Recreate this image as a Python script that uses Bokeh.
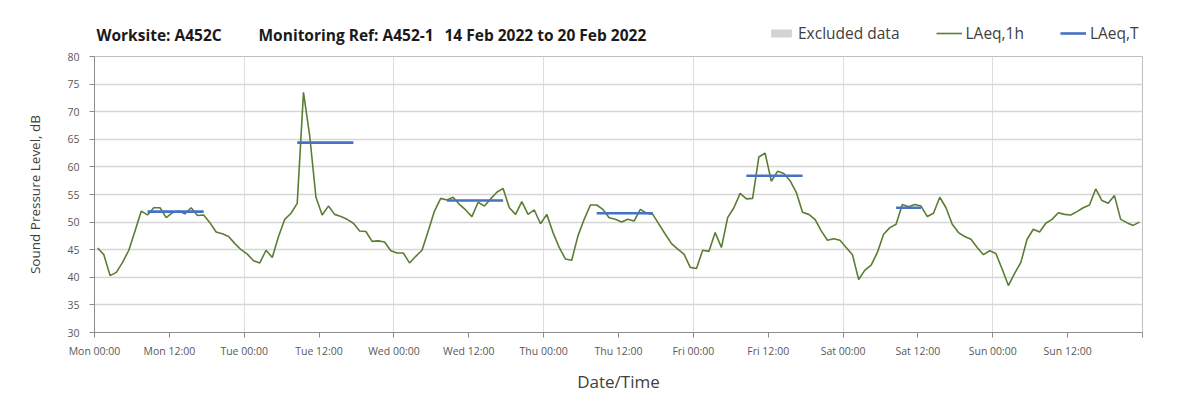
from bokeh.plotting import figure
from bokeh.layouts import column
from bokeh.models import FixedTicker, Legend, LegendItem, Label
from bokeh.embed import file_html
from bokeh.resources import INLINE

# ---------------- data ----------------
laeq_1h = [
    45.3, 44.1, 40.3, 40.9, 42.7, 44.9, 48.4, 52.0, 51.3, 52.6, 52.6, 50.8,
    51.7, 52.0, 51.5, 52.6, 51.2, 51.3, 49.9, 48.2, 47.9, 47.4, 46.1, 45.0,
    44.2, 43.0, 42.6, 44.9, 43.6, 47.4, 50.5, 51.6, 53.4, 73.5, 65.6, 54.5,
    51.3, 52.9, 51.4, 51.0, 50.5, 49.8, 48.4, 48.3, 46.5, 46.6, 46.4, 44.8,
    44.4, 44.4, 42.6, 43.8, 44.9, 48.4, 52.0, 54.3, 54.0, 54.5, 53.2, 52.2,
    51.0, 53.6, 52.9, 54.2, 55.4, 56.1, 52.6, 51.4, 53.7, 51.4, 52.2, 49.7,
    51.4, 48.1, 45.4, 43.3, 43.1, 47.5, 50.5, 53.1, 53.1, 52.3, 50.8, 50.5,
    50.0, 50.5, 50.2, 52.3, 51.6, 51.4, 49.6, 47.8, 46.1, 45.1, 44.2, 41.8,
    41.6, 44.9, 44.7, 48.1, 45.4, 50.8, 52.6, 55.2, 54.2, 54.3, 61.8, 62.5,
    57.4, 59.2, 58.8, 57.5, 55.4, 51.8, 51.4, 50.5, 48.4, 46.7, 47.0, 46.7,
    45.4, 44.1, 39.6, 41.3, 42.2, 44.5, 47.8, 49.0, 49.6, 53.2, 52.8, 53.2,
    52.9, 51.0, 51.6, 54.5, 52.6, 49.6, 48.1, 47.4, 46.9, 45.4, 44.1, 44.8,
    44.3, 41.5, 38.5, 40.7, 42.7, 46.9, 48.7, 48.2, 49.8, 50.5, 51.7, 51.4,
    51.3, 51.9, 52.6, 53.1, 56.0, 53.9, 53.4, 54.8, 50.5, 49.9, 49.4, 50.0,
]
hours = [i + 0.5 for i in range(len(laeq_1h))]

day_names = ["Mon", "Tue", "Wed", "Thu", "Fri", "Sat", "Sun"]
tick_labels = [f"{d} {t}" for d in day_names for t in ("00:00", "12:00")]

period_day = [0, 1, 2, 3, 4, 5]
period_start = [8, 8, 8, 8, 8, 8]
period_end = [18, 18, 18, 18, 18, 13]
laeq_t = [51.9, 64.4, 53.9, 51.6, 58.4, 52.6]

# excluded periods (none in this week)
excluded_start = []
excluded_end = []

title_parts = ["Worksite: A452C", "Monitoring Ref: A452-1", "14 Feb 2022 to 20 Feb 2022"]
legend_labels = ["Excluded data", "LAeq,1h", "LAeq,T"]
y_label = "Sound Pressure Level, dB"
x_label = "Date/Time"

seg_x0 = [d * 24 + s + 0.5 for d, s in zip(period_day, period_start)]
seg_x1 = [d * 24 + e - 0.5 for d, e in zip(period_day, period_end)]

FONT = "Open Sans"
GREEN = "#5b7d33"
BLUE = "#4472c4"
GREY = "#d3d3d3"
W = 1179
LEFT = 94
FRAME_W = 1048
HEAD_H = 48

# ---------------- header: title + legend ----------------
# (its frame is aligned with the chart frame by the column layout)
head = figure(
    width=W, height=HEAD_H, x_range=(0, FRAME_W), y_range=(0, HEAD_H),
    output_backend="svg", toolbar_location=None,
    x_axis_type=None, y_axis_type=None, min_border=0,
    background_fill_color="white", border_fill_color="white",
)
head.grid.visible = False
head.outline_line_color = None

for tx, txt in zip([2, 164, 350], title_parts):
    head.add_layout(Label(
        x=tx, y=HEAD_H - 34, text=txt,
        text_font=FONT, text_font_size="15.5px", text_font_style="bold",
        text_color="#1a1a1a", text_baseline="middle", text_align="left",
    ))

nan = float("nan")
px_ex = head.quad(left=[nan], right=[nan], top=[nan], bottom=[nan], fill_color=GREY, line_color=None)
px_1h = head.line([nan], [nan], line_color=GREEN, line_width=1.6)
px_t = head.line([nan], [nan], line_color=BLUE, line_width=2.6)

legend = Legend(
    items=[LegendItem(label=l, renderers=[r]) for l, r in zip(legend_labels, [px_ex, px_1h, px_t])],
    orientation="horizontal",
    location=(674, 4),
    glyph_width=26, glyph_height=10,
    label_standoff=4, spacing=36,
    padding=0, margin=0,
    border_line_color=None, background_fill_alpha=0,
    label_text_font=FONT, label_text_font_size="15.5px",
    label_text_color="#404040",
)
head.add_layout(legend)

# ---------------- main chart ----------------
p = figure(
    frame_width=FRAME_W, frame_height=276,
    x_range=(0, 168), y_range=(30, 80),
    output_backend="svg", toolbar_location=None,
    min_border_left=LEFT, min_border_right=W - LEFT - FRAME_W,
    min_border_top=8, min_border_bottom=61,
    background_fill_color="white", border_fill_color="white",
)

p.quad(left=excluded_start, right=excluded_end, top=80, bottom=30, fill_color=GREY, line_color=None)
p.line(hours, laeq_1h, line_color=GREEN, line_width=1.6)
p.segment(x0=seg_x0, y0=laeq_t, x1=seg_x1, y1=laeq_t, line_color=BLUE, line_width=2.6)

xt = list(range(0, 169, 12))
p.xaxis.ticker = FixedTicker(ticks=xt)
overrides = {t: lab for t, lab in zip(xt, tick_labels)}
overrides[168] = ""
p.xaxis.major_label_overrides = overrides
p.yaxis.ticker = FixedTicker(ticks=list(range(30, 81, 5)))
p.xgrid.ticker = FixedTicker(ticks=list(range(0, 169, 24)))

for ax in (p.xaxis, p.yaxis):
    ax.minor_tick_line_color = None
    ax.major_tick_in = 0
    ax.major_tick_out = 5
    ax.axis_line_color = "#8c8c8c"
    ax.major_tick_line_color = "#8c8c8c"
    ax.major_label_text_font = FONT
    ax.major_label_text_font_size = "10.5px"
    ax.major_label_text_color = "#595959"
    ax.axis_label_text_font = FONT
    ax.axis_label_text_font_style = "normal"
    ax.axis_label_text_color = "#404040"

p.yaxis.axis_label = y_label
p.yaxis.axis_label_text_font_size = "13.5px"
p.yaxis.major_label_standoff = 10
p.yaxis.axis_label_standoff = 20
p.xaxis.axis_label = x_label
p.xaxis.axis_label_text_font_size = "17px"
p.xaxis.major_label_standoff = 6
p.xaxis.axis_label_standoff = 9

p.ygrid.grid_line_color = "#d6d6d6"
p.ygrid.grid_line_width = 1.5
p.xgrid.grid_line_color = "#dedede"
p.xgrid.grid_line_width = 1
p.outline_line_color = "#bfbfbf"
p.outline_line_width = 1

layout = column(head, p, spacing=0)
open("out.html", "w").write(file_html(layout, INLINE))
